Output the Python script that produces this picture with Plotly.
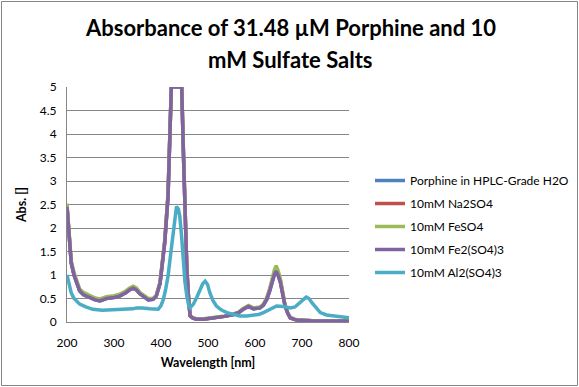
import plotly.graph_objects as go

# Wavelengths (nm) for the four overlapping porphine traces
wl_main = [200, 205, 209, 215, 222, 227, 235, 248, 260, 270, 284, 300, 312, 325, 334, 341, 348, 355,
           365, 373, 383, 390, 398, 403, 408, 415, 419, 422, 430, 438, 444, 448, 452, 455, 459, 462,
           468, 476, 490, 500, 518, 535, 554, 565, 575, 586, 597, 611, 618, 625, 631, 636, 641, 645,
           649, 654, 659, 664, 670, 675, 685, 696, 720, 750, 800]

abs_h2o = [2.44, 1.78, 1.25, 0.99, 0.79, 0.66, 0.58, 0.52, 0.47, 0.45, 0.5, 0.52, 0.55, 0.62, 0.69, 0.72,
           0.68, 0.6, 0.52, 0.47, 0.48, 0.55, 0.82, 1.2, 1.69, 2.68, 3.8, 5.0, 5.0, 5.0, 5.0, 3.5, 2.0,
           1.12, 0.45, 0.13, 0.08, 0.06, 0.06, 0.07, 0.09, 0.12, 0.16, 0.2, 0.27, 0.33, 0.28, 0.3, 0.36,
           0.48, 0.65, 0.84, 1.0, 1.08, 1.0, 0.84, 0.58, 0.34, 0.18, 0.09, 0.05, 0.035, 0.025, 0.02, 0.02]

abs_na2so4 = [2.47, 1.8, 1.27, 1.01, 0.81, 0.67, 0.6, 0.53, 0.48, 0.46, 0.51, 0.53, 0.56, 0.63, 0.7, 0.73,
              0.69, 0.61, 0.53, 0.48, 0.49, 0.56, 0.84, 1.22, 1.72, 2.7, 3.85, 5.0, 5.0, 5.0, 5.0, 3.5, 2.0,
              1.12, 0.45, 0.13, 0.08, 0.06, 0.06, 0.07, 0.09, 0.12, 0.16, 0.2, 0.28, 0.34, 0.29, 0.31, 0.37,
              0.5, 0.68, 0.88, 1.05, 1.14, 1.05, 0.88, 0.6, 0.35, 0.18, 0.09, 0.05, 0.035, 0.025, 0.02, 0.02]

abs_feso4 = [2.52, 1.85, 1.3, 1.05, 0.85, 0.7, 0.63, 0.56, 0.51, 0.49, 0.54, 0.56, 0.59, 0.66, 0.73, 0.76,
             0.72, 0.63, 0.55, 0.5, 0.5, 0.57, 0.85, 1.25, 1.75, 2.75, 3.9, 5.0, 5.0, 5.0, 5.0, 3.5, 2.0,
             1.12, 0.45, 0.14, 0.09, 0.07, 0.07, 0.08, 0.1, 0.13, 0.17, 0.21, 0.29, 0.35, 0.3, 0.32, 0.38,
             0.52, 0.7, 0.92, 1.1, 1.2, 1.1, 0.92, 0.62, 0.36, 0.19, 0.1, 0.06, 0.04, 0.03, 0.025, 0.025]

abs_fe2so43 = [2.45, 1.8, 1.26, 1.0, 0.8, 0.66, 0.58, 0.52, 0.47, 0.45, 0.5, 0.52, 0.55, 0.62, 0.69, 0.72,
               0.68, 0.6, 0.52, 0.47, 0.48, 0.55, 0.82, 1.2, 1.69, 2.68, 3.8, 5.0, 5.0, 5.0, 5.0, 3.5, 2.0,
               1.12, 0.45, 0.13, 0.08, 0.06, 0.06, 0.07, 0.09, 0.12, 0.16, 0.2, 0.27, 0.33, 0.28, 0.3, 0.36,
               0.48, 0.65, 0.84, 1.0, 1.08, 1.0, 0.84, 0.58, 0.34, 0.18, 0.09, 0.05, 0.035, 0.025, 0.02, 0.02]

# Al2(SO4)3 trace
wl_al = [200, 205, 209, 215, 227, 240, 255, 275, 298, 315, 327, 340, 348, 360, 376, 394, 400, 405, 410,
         415, 420, 426, 430, 433, 437, 440, 444, 447, 451, 455, 459, 462, 469, 476, 483, 489, 494, 499,
         504, 511, 518, 528, 540, 555, 568, 583, 597, 608, 618, 632, 646, 660, 675, 685, 693, 701, 709,
         715, 721, 730, 739, 752, 767, 785, 800]
abs_al2so43 = [1.0, 0.8, 0.62, 0.5, 0.38, 0.32, 0.27, 0.25, 0.26, 0.27, 0.26, 0.28, 0.3, 0.3, 0.28, 0.27,
               0.35, 0.48, 0.7, 0.98, 1.4, 1.9, 2.25, 2.46, 2.4, 2.25, 1.8, 1.26, 0.85, 0.55, 0.35, 0.3,
               0.38, 0.52, 0.69, 0.82, 0.87, 0.8, 0.62, 0.45, 0.34, 0.26, 0.2, 0.16, 0.13, 0.13, 0.14, 0.16,
               0.2, 0.28, 0.34, 0.33, 0.3, 0.32, 0.38, 0.46, 0.53, 0.5, 0.41, 0.3, 0.2, 0.15, 0.13, 0.1, 0.09]

series_names = ["Porphine in HPLC-Grade H2O", "10mM Na2SO4", "10mM FeSO4", "10mM Fe2(SO4)3", "10mM Al2(SO4)3"]
colors = ["#4F81BD", "#C0504D", "#9BBB59", "#8064A2", "#4BACC6"]
title_lines = ["Absorbance of 31.48 µM Porphine and 10", "mM Sulfate Salts"]
x_ticks = [200, 300, 400, 500, 600, 700, 800]
y_ticks = [0, 0.5, 1, 1.5, 2, 2.5, 3, 3.5, 4, 4.5, 5]

xs = [wl_main, wl_main, wl_main, wl_main, wl_al]
ys = [abs_h2o, abs_na2so4, abs_feso4, abs_fe2so43, abs_al2so43]

FONT = "Lato, Carlito, Calibri, sans-serif"

fig = go.Figure()
for i in range(5):
    fig.add_trace(go.Scatter(x=xs[i], y=ys[i], mode="lines", name=series_names[i],
                             line=dict(color=colors[i], width=3.5), legendgroup=str(i)))

W, H = 579, 387
L, R, T, B = 67, 230, 87, 65
pw, ph = W - L - R, H - T - B

def px(xp):
    return (xp - L) / pw

def py(yp):
    return (H - B - yp) / ph

fig.update_layout(
    width=W, height=H,
    margin=dict(l=L, r=R, t=T, b=B, autoexpand=False),
    paper_bgcolor="white", plot_bgcolor="white",
    font=dict(family=FONT, size=12, color="#000000"),
    showlegend=True,
    legend=dict(x=px(370), y=py(166), xanchor="left", yanchor="top",
                font=dict(family=FONT, size=12, color="#000000"),
                traceorder="grouped", tracegroupgap=4, bgcolor="rgba(0,0,0,0)"),
    xaxis=dict(range=[200, 800], tickvals=x_ticks, showgrid=False, zeroline=False, automargin=False,
               showline=True, linecolor="#868686", linewidth=1, ticks="", ticklabelstandoff=10,
               tickfont=dict(family=FONT, size=12, color="#000000"),
               title=dict(text="Wavelength [nm]", font=dict(family=FONT, size=12.5, color="#000000", weight="bold"),
                          standoff=8)),
    yaxis=dict(range=[0, 5], tickvals=y_ticks, ticktext=[str(v) if v % 1 else str(int(v)) for v in y_ticks],
               showgrid=True, gridcolor="#868686", gridwidth=1, zeroline=False, automargin=False,
               showline=True, linecolor="#868686", linewidth=1, ticks="", ticklabelstandoff=7,
               tickfont=dict(family=FONT, size=12, color="#000000"),
               title=dict(text="Abs. []", font=dict(family=FONT, size=12.5, color="#000000", weight="bold"),
                          standoff=10)),
)

for line_text, yc in zip(title_lines, [28, 60]):
    fig.add_annotation(text="<b>" + line_text + "</b>", xref="paper", yref="paper",
                       x=px(290), y=py(yc), xanchor="center", yanchor="middle", showarrow=False,
                       font=dict(family=FONT, size=22, color="#000000"))

fig.add_shape(type="rect", xref="paper", yref="paper",
              x0=px(1.5), x1=px(577.5), y0=py(385.5), y1=py(1.5),
              line=dict(color="#868686", width=1), fillcolor="rgba(0,0,0,0)", layer="below")

fig.write_html("out.html", config={"displayModeBar": False},
               post_script="document.body.style.margin='0';document.body.style.overflow='hidden';")
